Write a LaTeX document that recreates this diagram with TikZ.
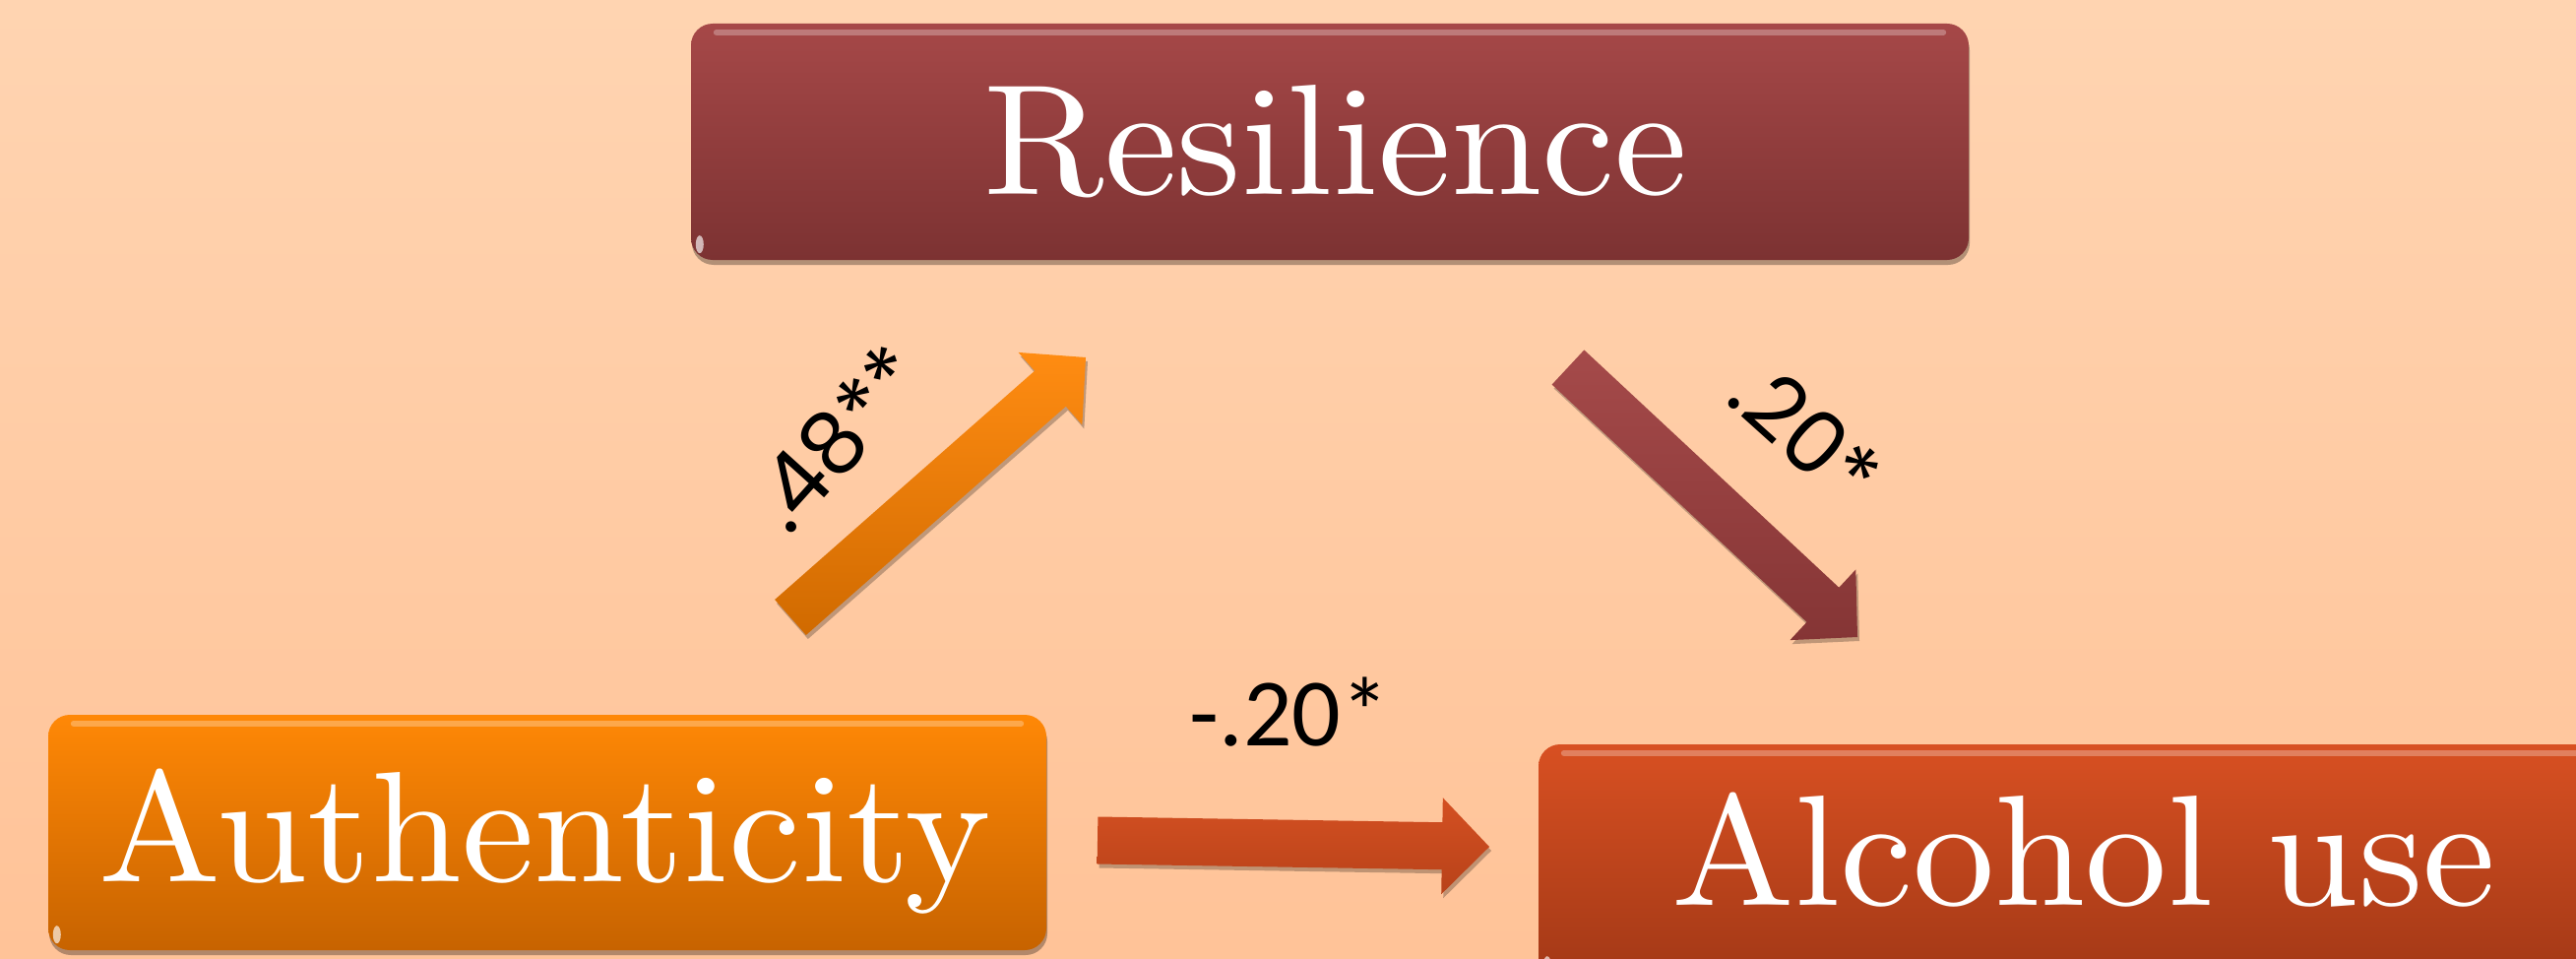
\documentclass[tikz,border=0pt]{standalone}
\usepackage{fontspec}
\setmainfont{Latin Modern Roman}
\newfontfamily\boxfont[FakeStretch=1.04]{lmroman10-regular.otf}
\newfontfamily\calib{Carlito}
\newfontfamily\geo{Poppins}
\usetikzlibrary{calc,shadows}
\definecolor{bgtop}{HTML}{FFD4B1}
\definecolor{bgbot}{HTML}{FFC398}
\definecolor{resTop}{HTML}{A64848}
\definecolor{resBot}{HTML}{7C3232}
\definecolor{autTop}{HTML}{FF8806}
\definecolor{autBot}{HTML}{C76300}
\definecolor{alcTop}{HTML}{D85022}
\definecolor{alcBot}{HTML}{A23816}
\definecolor{aoTop}{HTML}{FF8C12}
\definecolor{aoBot}{HTML}{D06A00}
\definecolor{amTop}{HTML}{A54A4A}
\definecolor{amBot}{HTML}{853535}
\definecolor{arTop}{HTML}{D45022}
\definecolor{arBot}{HTML}{B84219}
\newcommand\blockarrow[3]{%
  \coordinate (tmpH) at ($(#2)!48pt!(#1)$);
  \path[#3] ($(#1)!24pt!90:(#2)$) -- ($(tmpH)!24pt!-90:(#1)$) -- ($(tmpH)!49pt!-90:(#1)$) -- (#2)
    -- ($(tmpH)!49pt!90:(#1)$) -- ($(tmpH)!24pt!90:(#1)$) -- ($(#1)!24pt!-90:(#2)$) -- cycle;
}
\tikzset{
  boxnode/.style={rounded corners=22pt, inner sep=0pt,
    drop shadow={shadow xshift=1pt, shadow yshift=-5pt, opacity=0.3, fill=black}},
  boxtext/.style={text=white, inner sep=0pt, font=\boxfont\fontsize{160}{190}\selectfont},
  coef/.style={text=black, inner sep=0pt},
  arrowshade/.style={drop shadow={shadow xshift=2pt, shadow yshift=-4pt, opacity=0.25, fill=black}},
  hilite/.style={white, opacity=0.28, line width=6pt, line cap=round}
}
\begin{document}
\begin{tikzpicture}[x=1pt,y=-1pt]
\useasboundingbox (0,0) rectangle (2617,974);
\shade[top color=bgtop, bottom color=bgbot] (0,0) rectangle (2617,974);

% boxes
\node[boxnode, top color=resTop, bottom color=resBot, minimum width=1298pt, minimum height=240pt] (res) at (1351,144) {};
\node[boxnode, top color=autTop, bottom color=autBot, minimum width=1014pt, minimum height=239pt] (aut) at (556,845.5) {};
\node[boxnode, top color=alcTop, bottom color=alcBot, minimum width=1114pt, minimum height=240pt] (alc) at (2120,876) {};

% highlights
\foreach \b in {res,aut,alc}{
  \draw[hilite] ($(\b.north west)+(26,9)$) -- ($(\b.north east)+(-26,9)$);
  \fill[white, opacity=0.65] ($(\b.south west)+(9,-16)$) ellipse (4 and 9);
}

% box texts
\node[boxtext, anchor=base] (resT) at (1357,197) {Resilience};
\node[boxtext, anchor=base] (autT) at (554,895) {\scalebox{0.995}[1]{Authenticity}};
\node[boxtext, anchor=base] (alcT) at (2117,919) {Alcohol use};

% arrows
\coordinate (a1s) at (803,627); \coordinate (a1e) at (1103,363);
\coordinate (a2s) at (1593,373); \coordinate (a2e) at (1887,647);
\coordinate (a3s) at (1115,853.5); \coordinate (a3e) at (1513,860);
\blockarrow{a1s}{a1e}{arrowshade, top color=aoTop, bottom color=aoBot}
\blockarrow{a2s}{a2e}{arrowshade, top color=amTop, bottom color=amBot}
\blockarrow{a3s}{a3e}{arrowshade, top color=arTop, bottom color=arBot}

% coefficients
\node[coef, rotate=48, font=\geo\fontsize{88}{100}\selectfont] (c48) at (850,445) {.48**};
\node[coef, rotate=-42, font=\geo\fontsize{88}{100}\selectfont] (c20) at (1835,440) {.20*};
\node[coef, anchor=base, font=\calib\fontsize{98}{110}\selectfont] (cm20) at (1310,757) {-.20*};
\end{tikzpicture}
\end{document}
